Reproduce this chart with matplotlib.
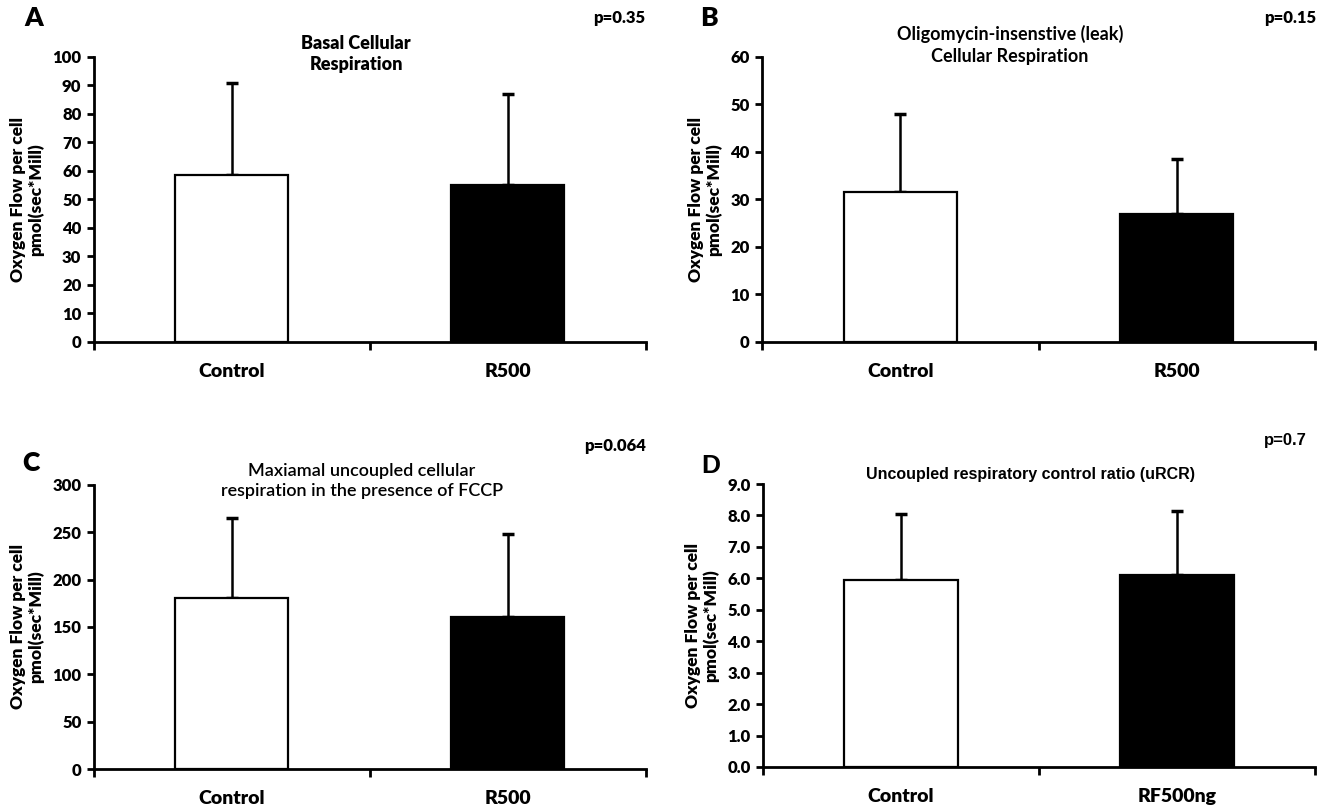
import matplotlib
matplotlib.use('Agg')
import matplotlib.pyplot as plt

plt.rcParams['font.family'] = ['Lato', 'DejaVu Sans']

groups_abc = ['Control', 'R500']
groups_d = ['Control', 'RF500ng']

basal_mean = [58.5, 55.0]
basal_err = [32.5, 32.0]

leak_mean = [31.5, 27.0]
leak_err = [16.5, 11.5]

fccp_mean = [181, 161]
fccp_err = [84, 87]

urcr_mean = [5.95, 6.1]
urcr_err = [2.1, 2.05]

ylabel = 'Oxygen Flow per cell\npmol(sec*Mill)'

fig = plt.figure(figsize=(13.37, 8.06), dpi=100)

panels = [
    # rect, groups, means, errs, ylim, step, fmt
    ([0.0703, 0.5757, 0.4127, 0.3536], groups_abc, basal_mean, basal_err, 100, 10, '%d'),
    ([0.5700, 0.5757, 0.4135, 0.3536], groups_abc, leak_mean, leak_err, 60, 10, '%d'),
    ([0.0703, 0.0459, 0.4127, 0.3524], groups_abc, fccp_mean, fccp_err, 300, 50, '%d'),
    ([0.5707, 0.0484, 0.4128, 0.3511], groups_d, urcr_mean, urcr_err, 9, 1, '%.1f'),
]

axes = []
for rect, groups, means, errs, ymax, step, fmt in panels:
    ax = fig.add_axes(rect)
    x = list(range(len(groups)))
    ax.bar(x, means, width=0.41, color=['white', 'black'], edgecolor='black', linewidth=1.6, zorder=2)
    ax.errorbar(x, means, yerr=[[0, 0], errs], fmt='none', ecolor='black',
                elinewidth=1.8, capsize=4, capthick=2.5, zorder=1)
    ax.set_xlim(-0.5, 1.5)
    ax.set_ylim(0, ymax)
    ticks = [i * step for i in range(int(round(ymax / step)) + 1)]
    ax.set_yticks(ticks)
    ax.set_yticklabels([fmt % t for t in ticks], fontweight='heavy', fontsize=12)
    ax.set_xticks([-0.5, 0.5, 1.5])
    ax.set_xticklabels([])
    ax.set_xticks(x, minor=True)
    ax.set_xticklabels(groups, minor=True, fontweight='heavy', fontsize=14)
    ax.tick_params(axis='x', which='minor', length=0, pad=15)
    ax.tick_params(axis='x', which='major', length=6, width=2, direction='out')
    ax.tick_params(axis='y', length=5, width=2, direction='out', pad=4)
    for s in ['top', 'right']:
        ax.spines[s].set_visible(False)
    for s in ['left', 'bottom']:
        ax.spines[s].set_linewidth(2)
    ax.set_ylabel(ylabel, fontweight='heavy', fontsize=12.5, labelpad=6, linespacing=1.1)
    axes.append(ax)

# panel letters, titles and p-values
fig.text(24 / 1337, 1 - 18 / 806, 'A', fontsize=19, fontweight='heavy', va='center')
fig.text(700 / 1337, 1 - 18 / 806, 'B', fontsize=19, fontweight='heavy', va='center')
fig.text(22 / 1337, 1 - 463 / 806, 'C', fontsize=19, fontweight='heavy', va='center')
fig.text(701 / 1337, 1 - 466 / 806, 'D', fontsize=19, fontweight='bold', va='center',
         family=['Liberation Sans'])

fig.text(645 / 1337, 1 - 18 / 806, 'p=0.35', fontsize=12, fontweight='heavy', ha='right', va='center')
fig.text(1316 / 1337, 1 - 18 / 806, 'p=0.15', fontsize=12, fontweight='heavy', ha='right', va='center')
fig.text(646 / 1337, 1 - 446 / 806, 'p=0.064', fontsize=12, fontweight='heavy', ha='right', va='center')
fig.text(1307 / 1337, 1 - 440 / 806, 'p=0.7', fontsize=12, fontweight='bold', ha='right', va='center',
         family=['Liberation Sans'])

fig.text(356 / 1337, 1 - 54 / 806, 'Basal Cellular\nRespiration', fontsize=13, fontweight='heavy',
         ha='center', va='center', linespacing=1.3)
fig.text(1010 / 1337, 1 - 45 / 806, 'Oligomycin-insenstive (leak)\nCellular Respiration', fontsize=13,
         fontweight='bold', ha='center', va='center', linespacing=1.3)
fig.text(362 / 1337, 1 - 481 / 806, 'Maxiamal uncoupled cellular\nrespiration in the presence of FCCP',
         fontsize=13, fontweight='semibold', ha='center', va='center', linespacing=1.3)
fig.text(1030 / 1337, 1 - 474 / 806, 'Uncoupled respiratory control ratio (uRCR)', fontsize=11.5,
         fontweight='bold', ha='center', va='center', family=['Liberation Sans'])

plt.savefig('out.png', dpi=100)
